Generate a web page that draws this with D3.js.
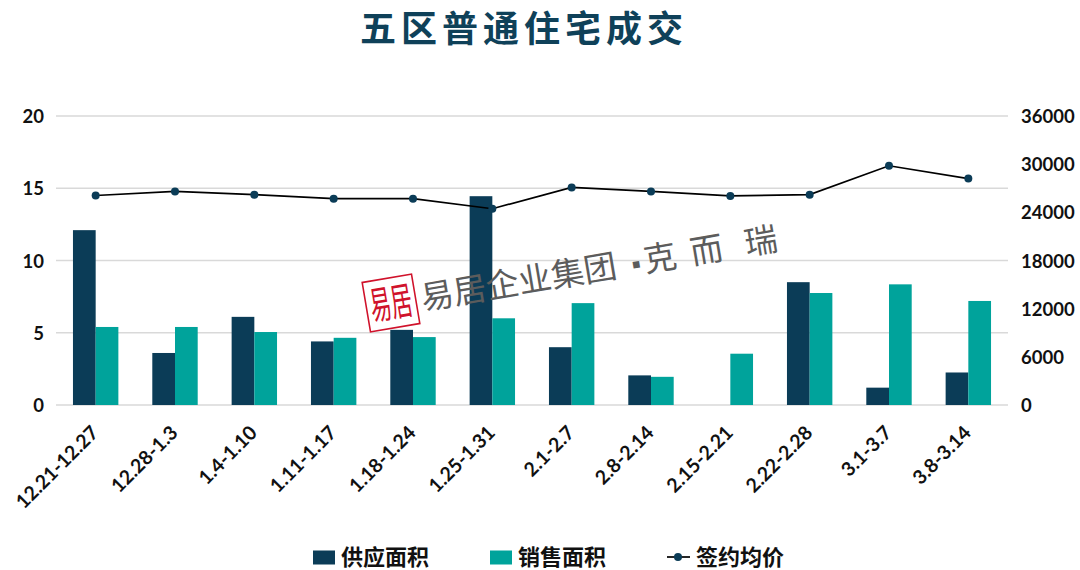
<!DOCTYPE html>
<html><head><meta charset="utf-8">
<script src="https://cdnjs.cloudflare.com/ajax/libs/d3/7.8.5/d3.min.js"></script>
<style>
html,body{margin:0;padding:0;background:#fff}
svg{display:block}
text{font-family:"Noto Sans CJK SC",sans-serif}
</style></head><body><svg id="c" width="1080" height="570"></svg>
<script>
const categories=["12.21-12.27","12.28-1.3","1.4-1.10","1.11-1.17","1.18-1.24","1.25-1.31","2.1-2.7","2.8-2.14","2.15-2.21","2.22-2.28","3.1-3.7","3.8-3.14"];
const supply=[12.1,3.6,6.1,4.4,5.2,14.45,4.0,2.05,0,8.5,1.2,2.25];
const sales=[5.4,5.4,5.05,4.65,4.7,6.0,7.05,1.95,3.55,7.75,8.35,7.2];
const price=[26100,26600,26200,25700,25700,24450,27100,26600,26050,26200,29800,28200];
const leftTicks=[0,5,10,15,20];
const rightTicks=[0,6000,12000,18000,24000,30000,36000];
const title="五区普通住宅成交";
const names=["供应面积","销售面积","签约均价"];
const watermark=["易居企业集团","▪","克","而","瑞"];
const seal="易居";
const navy="#0b3c57",teal="#00a39b",ink="#111";
const numFont='Lato,sans-serif';

const svg=d3.select("#c");
const x=d3.scaleBand().domain(categories).range([56,1008]);
const yL=d3.scaleLinear().domain([0,20]).range([405,116]);
const yR=d3.scaleLinear().domain([0,36000]).range([405,116]);
const bw=22.7;

svg.append("text").attr("x",524).attr("y",42).attr("text-anchor","middle")
 .attr("font-size",36).attr("font-weight",700).attr("letter-spacing",5).attr("fill","#0f4159").text(title);

// gridlines
svg.append("g").selectAll("line").data(leftTicks).join("line")
 .attr("x1",56).attr("x2",1008).attr("y1",d=>yL(d)).attr("y2",d=>yL(d))
 .attr("stroke","#d9d9d9").attr("stroke-width",1.3);

// left and right axes
const gl=svg.append("g").attr("transform","translate(56,0.6)").call(d3.axisLeft(yL).tickValues(leftTicks).tickSize(0).tickPadding(12));
const gr=svg.append("g").attr("transform","translate(1008,0.6)").call(d3.axisRight(yR).tickValues(rightTicks).tickFormat(d3.format("d")).tickSize(0).tickPadding(13));
[gl,gr].forEach(g=>{g.select(".domain").remove();
 g.selectAll("text").attr("font-size",18.5).attr("fill",ink).style("font-family",numFont).style("font-weight",700);});

// x axis labels
const gx=svg.append("g").attr("transform","translate(0,405)").call(d3.axisBottom(x).tickSize(0));
gx.select(".domain").remove();
gx.selectAll("text").attr("font-size",19.5).attr("fill",ink)
 .style("font-family",numFont).style("font-weight",700)
 .attr("text-anchor","end").attr("dy",0).attr("y",0)
 .attr("transform","translate(4,29) rotate(-45)");

// bars
const cx=d=>x(d)+x.bandwidth()/2;
svg.append("g").selectAll("rect").data(categories).join("rect")
 .attr("x",d=>cx(d)-bw).attr("width",bw)
 .attr("y",(d,i)=>yL(supply[i])).attr("height",(d,i)=>405-yL(supply[i])).attr("fill",navy);
svg.append("g").selectAll("rect").data(categories).join("rect")
 .attr("x",d=>cx(d)).attr("width",bw)
 .attr("y",(d,i)=>yL(sales[i])).attr("height",(d,i)=>405-yL(sales[i])).attr("fill",teal);

// watermark
const wm=svg.append("g").attr("transform","translate(423,310) rotate(-9.6)");
wm.append("text").attr("x",0).attr("y",0).attr("font-size",33).attr("fill","#5c5c5c").text(watermark[0]);
const wmX=[206,226,273,328];
watermark.slice(1).forEach((t,i)=>wm.append("text").attr("x",wmX[i]).attr("y",0).attr("font-size",i==0?24:33).attr("fill","#5c5c5c").text(t));
const sg=svg.append("g").attr("transform","translate(391,303) rotate(-9.6)");
sg.append("rect").attr("x",-25).attr("y",-25).attr("width",50).attr("height",50).attr("fill","#fff").attr("stroke","#d0122b").attr("stroke-width",1.6);
sg.append("text").attr("transform","translate(0,14) scale(0.85,1.55)").attr("text-anchor","middle").attr("font-size",25).attr("fill","#d0122b").text(seal);

// line
const line=d3.line().x((d,i)=>cx(categories[i])).y(d=>yR(d));
svg.append("path").datum(price).attr("d",line).attr("fill","none").attr("stroke","#000").attr("stroke-width",1.7);
svg.append("g").selectAll("circle").data(price).join("circle")
 .attr("cx",(d,i)=>cx(categories[i])).attr("cy",d=>yR(d)).attr("r",4).attr("fill",navy);

// legend
const lg=svg.append("g");
[[313,navy],[490,teal]].forEach(([lx,c],i)=>{
 lg.append("rect").attr("x",lx).attr("y",550.5).attr("width",22).attr("height",14).attr("fill",c);
 lg.append("text").attr("x",lx+28).attr("y",565).attr("font-size",22).attr("font-weight",700).attr("fill",ink).text(names[i]);
});
lg.append("line").attr("x1",667).attr("x2",690).attr("y1",557).attr("y2",557).attr("stroke","#000").attr("stroke-width",1.7);
lg.append("circle").attr("cx",678).attr("cy",557).attr("r",4).attr("fill",navy);
lg.append("text").attr("x",696).attr("y",565).attr("font-size",22).attr("font-weight",700).attr("fill",ink).text(names[2]);
</script></body></html>
